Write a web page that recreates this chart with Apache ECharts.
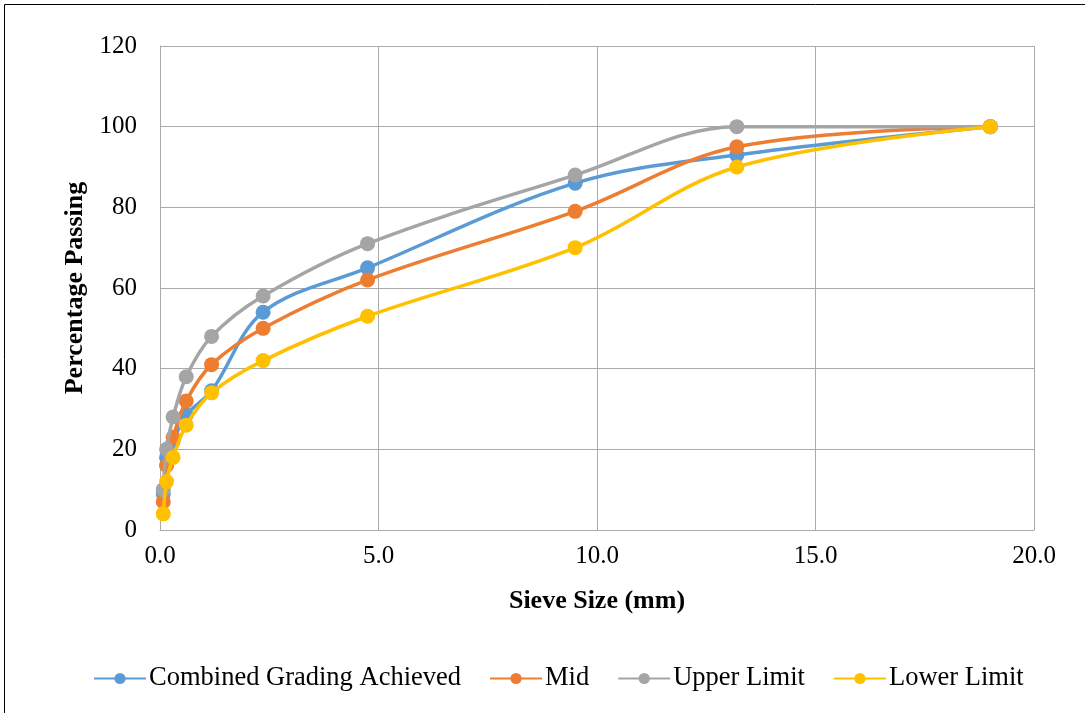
<!DOCTYPE html>
<html>
<head>
<meta charset="utf-8">
<script src="https://cdn.jsdelivr.net/npm/echarts@6/dist/echarts.min.js"></script>
<style>
  html, body { margin: 0; padding: 0; background: #ffffff; }
  #chart { width: 1085px; height: 713px; }
</style>
</head>
<body>
<div id="chart"></div>
<script>
// Sieve sizes (mm) and percentage passing for each grading curve
const sieveSizes = [0.075, 0.15, 0.3, 0.6, 1.18, 2.36, 4.75, 9.5, 13.2, 19.0];
const combinedGrading = [9, 18, 22, 28.5, 34.5, 54, 65, 86, 93, 100];
const midGrading = [7, 16, 23, 32, 41, 50, 62, 79, 95, 100];
const upperLimit = [10, 20, 28, 38, 48, 58, 71, 88, 100, 100];
const lowerLimit = [4, 12, 18, 26, 34, 42, 53, 70, 90, 100];

const seriesNames = ['Combined Grading Achieved', 'Mid', 'Upper Limit', 'Lower Limit'];
const seriesColors = ['#5B9BD5', '#ED7D31', '#A5A5A5', '#FFC000'];
const seriesValues = [combinedGrading, midGrading, upperLimit, lowerLimit];

const serif = '"Liberation Serif", "Times New Roman", serif';

function pairs(values) {
  return sieveSizes.map((s, i) => [s, values[i]]);
}

const chart = echarts.init(document.getElementById('chart'));

chart.setOption({
  backgroundColor: '#ffffff',
  animation: false,
  graphic: [{
    type: 'rect',
    shape: { x: 4.5, y: 4.5, width: 1200, height: 800 },
    style: { fill: 'none', stroke: '#000000', lineWidth: 1 },
    silent: true
  }],
  grid: { left: 160, right: 51, top: 46, bottom: 183 },
  xAxis: {
    type: 'value',
    min: 0, max: 20, interval: 5,
    name: 'Sieve Size (mm)',
    nameLocation: 'middle',
    nameGap: 58,
    nameTextStyle: { fontFamily: serif, fontSize: 26, fontWeight: 'bold', color: '#000' },
    axisLine: { show: true, lineStyle: { color: '#ABABAB', width: 1 } },
    axisTick: { show: false },
    axisLabel: {
      fontFamily: serif, fontSize: 25, color: '#000', margin: 14,
      formatter: v => v.toFixed(1)
    },
    splitLine: { show: true, lineStyle: { color: '#ABABAB', width: 1 } }
  },
  yAxis: {
    type: 'value',
    min: 0, max: 120, interval: 20,
    name: 'Percentage Passing',
    nameLocation: 'middle',
    nameGap: 70,
    nameTextStyle: { fontFamily: serif, fontSize: 26, fontWeight: 'bold', color: '#000' },
    axisLine: { show: true, lineStyle: { color: '#ABABAB', width: 1 } },
    axisTick: { show: false },
    axisLabel: { fontFamily: serif, fontSize: 25, color: '#000', margin: 23 },
    splitLine: { show: true, lineStyle: { color: '#ABABAB', width: 1 } }
  },
  legend: {
    left: 88,
    top: 660,
    itemWidth: 52,
    itemHeight: 14,
    itemGap: 28,
    textStyle: { fontFamily: serif, fontSize: 26.5, color: '#000', padding: [0, 0, 0, -2] },
    data: seriesNames
  },
  series: seriesNames.map((name, i) => ({
    name,
    type: 'line',
    data: pairs(seriesValues[i]),
    smooth: 0.35,
    symbol: 'circle',
    symbolSize: 15,
    color: seriesColors[i],
    lineStyle: { width: 3.5, color: seriesColors[i] },
    itemStyle: { color: seriesColors[i] },
    z: 2 + i
  }))
});
</script>
</body>
</html>
